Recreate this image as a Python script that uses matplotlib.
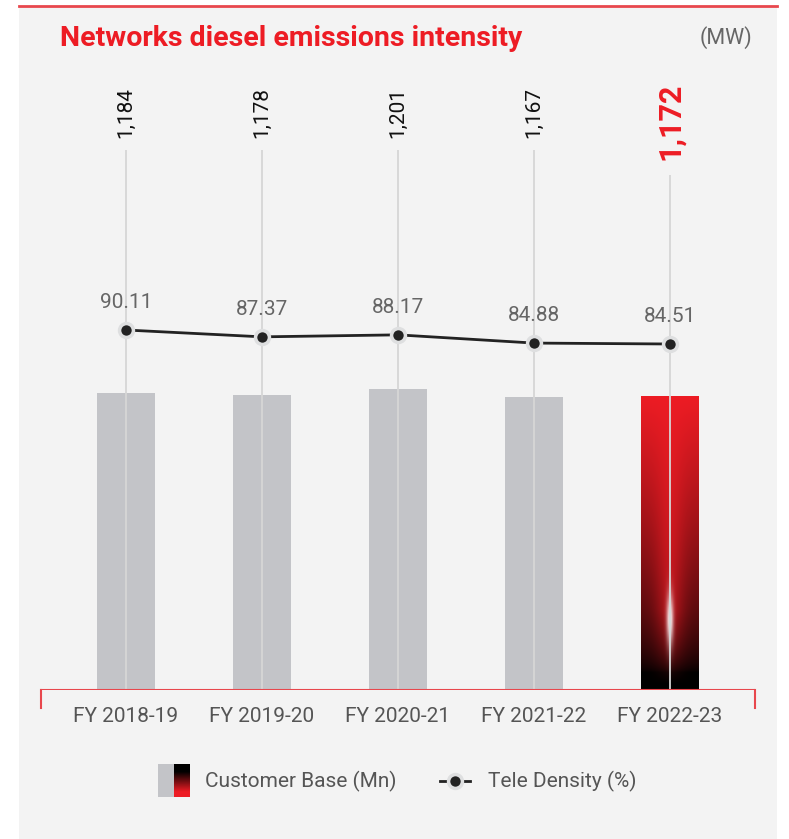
import numpy as np
import matplotlib
matplotlib.use("Agg")
import matplotlib.pyplot as plt
from matplotlib.lines import Line2D
from matplotlib.patches import Rectangle

plt.rcParams['font.family'] = ['Roboto', 'DejaVu Sans']

categories = ["FY 2018-19", "FY 2019-20", "FY 2020-21", "FY 2021-22", "FY 2022-23"]
customer_base = [1184, 1178, 1201, 1167, 1172]
customer_labels = ["1,184", "1,178", "1,201", "1,167", "1,172"]
tele_density = [90.11, 87.37, 88.17, 84.88, 84.51]
tele_labels = ["90.11", "87.37", "88.17", "84.88", "84.51"]

W, H = 789, 839
fig = plt.figure(figsize=(W / 100, H / 100), dpi=100)
fig.patch.set_facecolor('white')

def fx(px):
    return px / W

def fy(py):
    return 1 - py / H

# panel background
fig.patches.append(Rectangle((fx(19), 0), fx(777) - fx(19), fy(7), transform=fig.transFigure,
                             facecolor='#f3f3f3', edgecolor='none', zorder=-10))
fig.lines.append(Line2D([fx(19), fx(777)], [fy(6), fy(6)], transform=fig.transFigure,
                        color='#e8474d', lw=2.0, zorder=-9))

RED = np.array([237, 28, 36]) / 255.0
GRAY = '#c3c4c8'

ax = fig.add_axes([fx(40), fy(690), fx(755) - fx(40), fy(60) - fy(690)])
ax.set_facecolor('none')
x = np.arange(len(categories))
bw = 0.42

# gridlines
line_top = [2153, 2153, 2153, 2153, 2053]
ax.vlines(x, 0, line_top, color='#d6d6d6', lw=1.3, zorder=4)

# bars
ax.bar(x[:-1], customer_base[:-1], width=bw, color=GRAY, zorder=2)

# gradient bar for last
nh, nw = 400, 120
t = np.linspace(1, 0, nh)[:, None]       # 1 top, 0 bottom
u = np.linspace(-1, 1, nw)[None, :]
edge = np.clip((t - 0.06) / 0.94, 0, 1) ** 0.65
c = np.exp(-(u / 0.5) ** 2) * np.clip((t - 0.02) / 0.25, 0, 1)
r = np.clip(edge + 0.6 * c * (1 - edge), 0, 1)
img = RED[None, None, :] * r[..., None]
glow = np.exp(-(u / 0.12) ** 2) * np.exp(-((t - 0.24) / 0.09) ** 2)
img = img + (1 - img) * glow[..., None] * 0.95
img = np.clip(img, 0, 1)
xi = x[-1]
ax.imshow(img, extent=(xi - bw / 2, xi + bw / 2, 0, customer_base[-1]), aspect='auto',
          zorder=2, interpolation='bilinear')
ax.set_xlim(-0.632, 4.625)
ax.set_ylim(0, 2512)

# bar value labels
for i, (xv, lab) in enumerate(zip(x, customer_labels)):
    if i == len(x) - 1:
        ax.text(xv, 2113, lab, rotation=90, ha='center', va='bottom', fontsize=22,
                fontweight='bold', color='#ed1c24', zorder=6)
    else:
        ax.text(xv, 2201, lab, rotation=90, ha='center', va='bottom', fontsize=15,
                color='#111111', zorder=6)

# axis
ax.axhline(0, color='#e8474d', lw=1.5, zorder=5)
for s in ax.spines.values():
    s.set_visible(False)
ax.set_yticks([])
ax.set_xticks(x)
ax.set_xticklabels(categories, fontsize=15, color='#555555')
ax.tick_params(axis='x', length=0, pad=12)
for px in (40.5, 754.5):
    fig.lines.append(Line2D([fx(px), fx(px)], [fy(690), fy(708)], transform=fig.transFigure,
                            color='#e8474d', lw=1.5))

# line on secondary axis
ax2 = ax.twinx()
ax2.set_ylim(-53.89, 198.11)
ax2.set_yticks([])
for s in ax2.spines.values():
    s.set_visible(False)
ax2.plot(x, tele_density, color='#222222', lw=2, marker='o', markersize=10,
         markerfacecolor='#222222', markeredgecolor='#dedfe0', markeredgewidth=2.5, zorder=7)
for xv, v, lab in zip(x, tele_density, tele_labels):
    ax2.annotate(lab, (xv, v), xytext=(0, 13), textcoords='offset points', ha='center',
                 va='bottom', fontsize=15, color='#666666')

# title
fig.text(fx(60), fy(38), "Networks diesel emissions intensity", fontsize=20.5, fontweight='bold',
         color='#ed1c24', ha='left', va='center')
fig.text(fx(752), fy(38), "(MW)", fontsize=15.5, color='#666666', ha='right', va='center')

# legend
lx0 = 158
fig.patches.append(Rectangle((fx(lx0), fy(797)), fx(16) - fx(0), fy(764) - fy(797),
                             transform=fig.transFigure, facecolor=GRAY, edgecolor='none'))
leg_t = np.linspace(1, 0, 50)[:, None]
leg_img = np.zeros((50, 1, 3))
f = np.clip((0.75 - leg_t) / 0.6, 0, 1)
leg_img[:, 0, :] = RED[None, :] * f
lax = fig.add_axes([fx(174), fy(797), fx(16), fy(764) - fy(797)])
lax.imshow(leg_img, aspect='auto', extent=(0, 1, 0, 1))
lax.axis('off')
fig.text(fx(205), fy(781), "Customer Base (Mn)", fontsize=15, color='#555555', va='center')
fig.lines.append(Line2D([fx(440), fx(447)], [fy(781), fy(781)], transform=fig.transFigure,
                        color='#222222', lw=2))
fig.lines.append(Line2D([fx(463), fx(470)], [fy(781), fy(781)], transform=fig.transFigure,
                        color='#222222', lw=2))
fig.lines.append(Line2D([fx(455)], [fy(781)], transform=fig.transFigure, marker='o',
                        markersize=10, markerfacecolor='#222222', markeredgecolor='#dedfe0',
                        markeredgewidth=2.5, color='none'))
fig.text(fx(488), fy(781), "Tele Density (%)", fontsize=15, color='#555555', va='center')

fig.savefig("out.png", dpi=100)
